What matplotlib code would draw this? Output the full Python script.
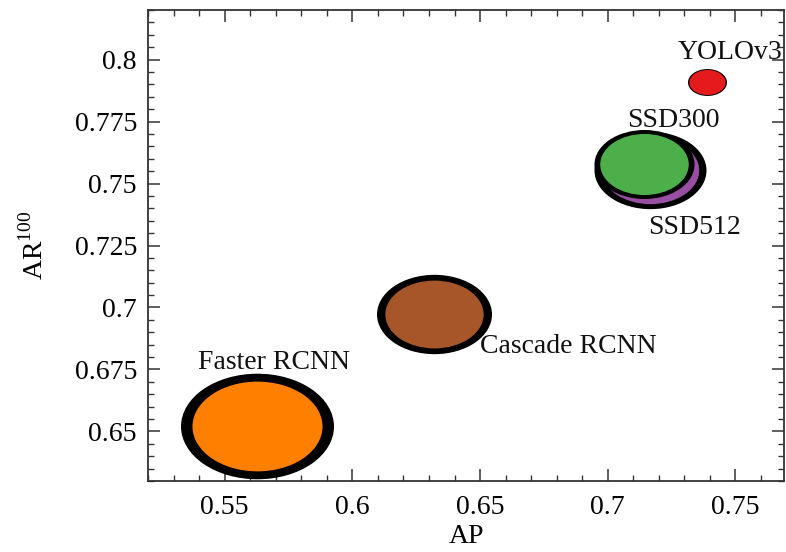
import numpy as np
import matplotlib
matplotlib.use('Agg')
import matplotlib.pyplot as plt
from matplotlib.path import Path
from matplotlib.transforms import Affine2D
from matplotlib.ticker import MultipleLocator, FuncFormatter

# data
models = ['Faster RCNN', 'Cascade RCNN', 'SSD512', 'SSD300', 'YOLOv3']
ap = [0.5625, 0.6319, 0.7164, 0.7140, 0.7387]
ar = [0.652, 0.6973, 0.7555, 0.7579, 0.791]
bubble = [1.53, 1.15, 1.12, 1.00, 0.39]   # relative bubble size

# style
colors = ['#FF7F00', '#A65628', '#984EA3', '#4DAF4A', '#E41A1C']
inner_frac = [0.85, 0.855, 0.87, 0.885, 0.93]
lab_off = [(12.6, 41.4), (33.0, -27.8), (32.0, -46.5), (21.5, 26.5), (16.6, 16.8)]
lab_ha = ['center', 'left', 'center', 'center', 'center']

plt.rcParams['font.family'] = 'Liberation Serif'
plt.rcParams['mathtext.fontset'] = 'custom'
plt.rcParams['mathtext.rm'] = 'Liberation Serif'
fs = 20

fig = plt.figure(figsize=(7.86, 5.52), dpi=100)
fig.set_facecolor('white')
ax = fig.add_axes([148/786., 1-481/552., (784-148)/786., (481-10)/552.])

# squashed circle -> ellipse marker
ell = Path.unit_circle().transformed(Affine2D().scale(1.0, 0.69))
pt_per_unit = 72.0  # width in points of a bubble of size 1

for i in range(len(models)):
    w = bubble[i]*pt_per_unit
    ax.scatter([ap[i]], [ar[i]], s=w**2, marker=ell, c='black', linewidths=0, zorder=2+2*i)
    ax.scatter([ap[i]], [ar[i]], s=(w*inner_frac[i])**2, marker=ell, c=colors[i],
               linewidths=0, zorder=3+2*i)
    t = ax.annotate(models[i], (ap[i], ar[i]), xytext=lab_off[i], textcoords='offset points',
                    ha=lab_ha[i], va='baseline', fontsize=fs, color='#111111',
                    zorder=20, annotation_clip=False)
    t.set_clip_on(True)

ax.set_xlim(0.52, 0.769)
ax.set_ylim(0.63, 0.82)
ax.xaxis.set_major_locator(MultipleLocator(0.05))
ax.xaxis.set_minor_locator(MultipleLocator(0.01))
ax.yaxis.set_major_locator(MultipleLocator(0.025))
ax.yaxis.set_minor_locator(MultipleLocator(0.005))
fmt = FuncFormatter(lambda v, p: '%g' % round(v, 3))
ax.xaxis.set_major_formatter(fmt)
ax.yaxis.set_major_formatter(fmt)

ax.tick_params(which='both', direction='in', top=True, right=True, color='#333333')
ax.tick_params(which='major', length=8.5, width=1.1, labelsize=fs)
ax.tick_params(which='minor', length=4.5, width=1.0)
ax.tick_params(axis='x', which='major', pad=10)
ax.tick_params(axis='y', which='major', pad=8)
for sp in ax.spines.values():
    sp.set_linewidth(1.3)
    sp.set_color('#333333')

ax.set_xlabel('AP', fontsize=fs, labelpad=3)
ax.set_ylabel(r'AR$^{\mathrm{100}}$', fontsize=fs, labelpad=19)

fig.savefig('out.png', dpi=100, facecolor='white')
